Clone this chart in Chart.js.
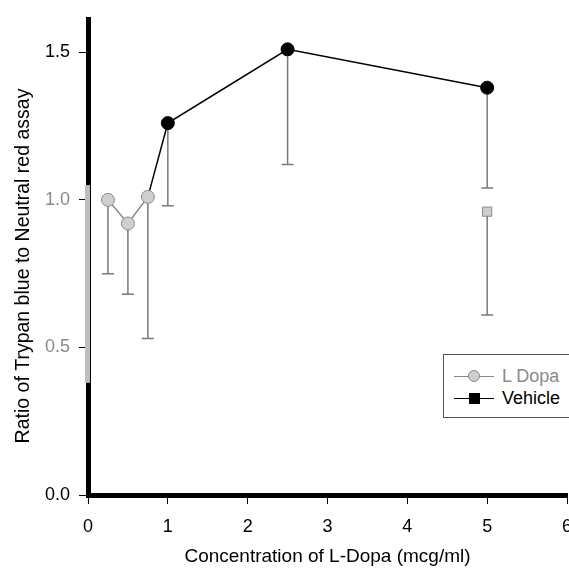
<!DOCTYPE html>
<html>
<head>
<meta charset="utf-8">
<script src="https://cdn.jsdelivr.net/npm/chart.js@4.4.1/dist/chart.umd.min.js"></script>
<style>
  html, body { margin: 0; padding: 0; background: #fff; overflow: hidden; }
  #wrap { position: relative; width: 569px; height: 568px; overflow: hidden; }
  #box { position: absolute; left: 0; top: 0; width: 600px; height: 568px; }
  #legend {
    position: absolute; left: 443px; top: 354px; width: 140px; height: 62px;
    border: 1px solid #555; background: #fff;
    font-family: "Liberation Sans", Arial, sans-serif; font-size: 18px;
  }
  .row { position: absolute; left: 10px; height: 20px; line-height: 20px; }
  .row span { position: absolute; left: 48px; top: 0; white-space: nowrap; }
  .ln { position: absolute; left: 0; top: 10px; width: 40px; height: 1px; }
  .mk { position: absolute; }
</style>
</head>
<body>
<div id="wrap">
  <div id="box"><canvas id="grafica" width="600" height="568"></canvas></div>
  <div id="legend">
    <div class="row" style="top:11px">
      <div class="ln" style="background:#8a8a8a"></div>
      <div class="mk" style="left:14px;top:4px;width:12px;height:12px;border-radius:50%;background:#cfcfcf;border:1px solid #8a8a8a;box-sizing:border-box"></div>
      <span style="color:#8a8a8a">L Dopa</span>
    </div>
    <div class="row" style="top:33px">
      <div class="ln" style="background:#000"></div>
      <div class="mk" style="left:15px;top:5px;width:11px;height:11px;background:#000"></div>
      <span style="color:#000">Vehicle</span>
    </div>
  </div>
</div>
<script>
// Datos
const dosis = [0.25, 0.5, 0.75, 1, 2.5, 5];
const lDopa = [1.0, 0.92, 1.01, 1.26, 1.51, 1.38];
const lDopaBajo = [0.75, 0.68, 0.53, 0.98, 1.12, 1.04];
const dosisVehiculo = [5];
const vehiculo = [0.96];
const vehiculoBajo = [0.61];
const ticksY = [0, 0.5, 1.0, 1.5];

const gris = '#8a8a8a';
const coloresPunto = dosis.map((d, i) => i < 3 ? '#cfcfcf' : '#000');
const bordesPunto = dosis.map((d, i) => i < 3 ? gris : '#000');
const tituloY = 'Ratio of Trypan blue to Neutral red assay';

// Barras de error (solo hacia abajo), tramo gris del eje y título Y
const barrasError = {
    id: 'barrasError',
    beforeDatasetsDraw(chart) {
        const c = chart.ctx;
        const x = chart.scales.x, y = chart.scales.y;
        const dibujar = (xs, ys, bajos) => {
            xs.forEach((d, i) => {
                const px = x.getPixelForValue(d);
                const p1 = y.getPixelForValue(ys[i]);
                const p2 = y.getPixelForValue(bajos[i]);
                c.save();
                c.strokeStyle = '#7a7a7a';
                c.lineWidth = 1.5;
                c.beginPath();
                c.moveTo(px, p1);
                c.lineTo(px, p2);
                c.moveTo(px - 6, p2);
                c.lineTo(px + 6, p2);
                c.stroke();
                c.restore();
            });
        };
        dibujar(dosis, lDopa, lDopaBajo);
        dibujar(dosisVehiculo, vehiculo, vehiculoBajo);
    },
    afterDraw(chart) {
        const c = chart.ctx;
        const y = chart.scales.y;
        const px = chart.chartArea.left;
        c.save();
        c.fillStyle = '#bdbdbd';
        const a = y.getPixelForValue(1.05), b = y.getPixelForValue(0.38);
        c.fillRect(px - 3, a, 5, b - a);
        // título del eje Y
        c.translate(24, 266);
        c.rotate(-Math.PI / 2);
        c.fillStyle = '#000';
        c.font = '19.5px "Liberation Sans"';
        c.textAlign = 'center';
        c.textBaseline = 'middle';
        c.fillText(tituloY, 0, 0);
        c.restore();
    }
};

const ctx = document.getElementById('grafica').getContext('2d');
new Chart(ctx, {
    type: 'scatter',
    data: {
        datasets: [{
            label: 'L Dopa',
            data: dosis.map((d, i) => ({x: d, y: lDopa[i]})),
            showLine: true,
            borderWidth: 1.5,
            borderColor: '#000',
            segment: {
                borderColor: s => s.p0DataIndex < 2 ? gris : '#000'
            },
            pointRadius: 6.5,
            pointBackgroundColor: coloresPunto,
            pointBorderColor: bordesPunto,
            pointBorderWidth: 1
        }, {
            label: 'Vehicle',
            data: dosisVehiculo.map((d, i) => ({x: d, y: vehiculo[i]})),
            pointStyle: 'rect',
            pointRadius: 6.5,
            pointBackgroundColor: '#cfcfcf',
            pointBorderColor: gris,
            pointBorderWidth: 1
        }]
    },
    options: {
        responsive: false,
        animation: false,
        layout: { padding: { top: 12, right: 33, left: 0, bottom: 0 } },
        plugins: {
            legend: { display: false },
            tooltip: { enabled: false }
        },
        scales: {
            x: {
                type: 'linear',
                min: 0, max: 6,
                ticks: {
                    stepSize: 1,
                    color: '#000',
                    padding: 12,
                    font: { family: 'Liberation Sans', size: 18 }
                },
                grid: { drawOnChartArea: false, tickLength: 9, color: '#000', lineWidth: 1 },
                border: { display: true, color: '#000', width: 5 },
                title: {
                    display: true,
                    text: 'Concentration of L-Dopa (mcg/ml)',
                    color: '#000',
                    font: { family: 'Liberation Sans', size: 19 },
                    padding: { top: 2, bottom: 0 }
                },
                afterFit: s => { s.height = 73; }
            },
            y: {
                min: 0, max: 1.61,
                afterBuildTicks: s => { s.ticks = ticksY.map(v => ({value: v})); },
                ticks: {
                    color: v => (v.tick && (v.tick.value === 0.5 || v.tick.value === 1)) ? gris : '#000',
                    padding: 9,
                    callback: v => v.toFixed(1),
                    font: { family: 'Liberation Sans', size: 18 }
                },
                grid: { drawOnChartArea: false, tickLength: 9, color: '#000', lineWidth: 1 },
                border: { display: true, color: '#000', width: 5 },
                afterFit: s => { s.width = 88; }
            }
        }
    },
    plugins: [barrasError]
});
</script>
</body>
</html>
